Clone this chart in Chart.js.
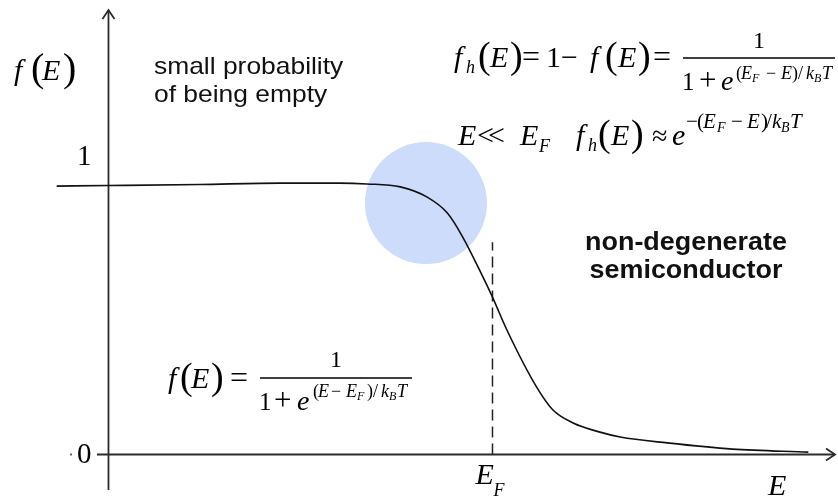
<!DOCTYPE html>
<html>
<head>
<meta charset="utf-8">
<title>Fermi-Dirac occupancy</title>
<script src="https://cdn.jsdelivr.net/npm/chart.js@4.4.1/dist/chart.umd.min.js"></script>
<style>
  html, body { margin: 0; padding: 0; background: #fff; overflow: hidden; }
  canvas { display: block; }
</style>
</head>
<body>
<canvas id="fermi" width="838" height="498"></canvas>
<script>
// occupancy curve f(E), energy in arbitrary units (E_F = 4)
const energy = [-0.54, 0, 0.95, 1.79, 2.41, 2.69, 3.04, 3.32, 3.53, 3.69, 3.9, 4.0, 4.15, 4.46, 4.63, 4.84, 5.12, 5.33, 5.82, 6.5, 7.29];
const occupancy = [0.996, 0.998, 1.002, 1.007, 1.007, 1.004, 0.993, 0.955, 0.896, 0.807, 0.659, 0.584, 0.462, 0.25, 0.165, 0.117, 0.083, 0.065, 0.043, 0.02, 0.009];

// Fermi level marker
const fermiLevel = 4.0;
const fermiMarkerTop = 0.788;

// shaded region around the knee of the curve
const highlightE = [3.307];
const highlightF = [0.933];

const yTickValues = [1, 0];
const yTickLabels = ['1', '0'];

const SERIF = '"Liberation Serif", "DejaVu Serif", serif';
const SANS = '"Liberation Sans", Arial, sans-serif';

// glyphs placed one by one: [text, x, italic, size, baseline]
function glyphs(ctx, list) {
    list.forEach(function (g) {
        const [t, x, it, size, base] = g;
        ctx.font = (it ? 'italic ' : '') + size + 'px ' + SERIF;
        ctx.fillText(t, x, base);
    });
}

function fracLine(ctx, x0, x1, y) {
    ctx.fillRect(x0, y - 0.75, x1 - x0, 1.5);
}

function centered(ctx, text, cx, base, font) {
    ctx.font = font;
    ctx.textAlign = 'center';
    ctx.fillText(text, cx, base);
    ctx.textAlign = 'left';
}

// text drawn slightly wider than the font's own metrics
function wideText(ctx, text, x, y, sx, align) {
    ctx.save();
    ctx.translate(x, y);
    ctx.scale(sx, 1);
    ctx.textAlign = align;
    ctx.fillText(text, 0, 0);
    ctx.restore();
}

function arrowHead(ctx, x, y, dx, dy) {
    // open chevron pointing along (dx, dy)
    const len = 9, half = 6;
    const px = -dy, py = dx;
    ctx.beginPath();
    ctx.moveTo(x - dx * len + px * half, y - dy * len + py * half);
    ctx.lineTo(x, y);
    ctx.lineTo(x - dx * len - px * half, y - dy * len - py * half);
    ctx.stroke();
}

const diagram = {
    id: 'diagram',
    beforeDatasetsDraw(chart) {
        const ctx = chart.ctx;
        const xs = chart.scales.x, ys = chart.scales.y;
        const x0 = xs.getPixelForValue(0), y0 = ys.getPixelForValue(0);

        ctx.save();
        ctx.strokeStyle = '#2b2b2b';
        ctx.lineWidth = 1.8;
        // energy axis
        const xEnd = xs.getPixelForValue(7.568);
        ctx.beginPath();
        ctx.moveTo(xs.getPixelForValue(-0.12), y0);
        ctx.lineTo(xEnd, y0);
        ctx.stroke();
        arrowHead(ctx, xEnd, y0, 1, 0);
        // occupancy axis
        const yEnd = ys.getPixelForValue(1.649);
        ctx.beginPath();
        ctx.moveTo(x0, ys.getPixelForValue(-0.132));
        ctx.lineTo(x0, yEnd);
        ctx.stroke();
        arrowHead(ctx, x0, yEnd, 0, -1);
        ctx.restore();
    },
    afterDraw(chart) {
        const ctx = chart.ctx;
        const xs = chart.scales.x, ys = chart.scales.y;
        const x0 = xs.getPixelForValue(0);
        ctx.save();
        ctx.fillStyle = '#000';
        ctx.textBaseline = 'alphabetic';

        // tick labels on the f(E) axis
        yTickValues.forEach(function (v, i) {
            ctx.font = '29px ' + SERIF;
            ctx.textAlign = 'right';
            const y = ys.getPixelForValue(v);
            ctx.fillText(yTickLabels[i], x0 - 17, y + (v === 0 ? 8 : -20));
        });
        ctx.textAlign = 'left';
        ctx.fillStyle = '#666';
        ctx.fillRect(70, ys.getPixelForValue(0) - 1, 2, 2);
        ctx.fillStyle = '#000';

        // axis titles
        glyphs(ctx, [['f', 14, 1, 30, 80], ['(', 31, 0, 40, 81], ['E', 42, 1, 30, 80], [')', 63, 0, 40, 81]]);
        const ef = xs.getPixelForValue(fermiLevel);
        glyphs(ctx, [['E', ef - 17, 1, 30, 484], ['F', ef + 1, 1, 18, 496]]);
        glyphs(ctx, [['E', 768, 1, 30, 495]]);

        // f_h(E) = 1 - f(E) = 1 / (1 + e^{(E_F - E)/k_B T})
        glyphs(ctx, [
            ['f', 454, 1, 30, 67], ['h', 466, 1, 18, 73], ['(', 478, 0, 38, 68], ['E', 490, 1, 30, 67],
            [')', 510, 0, 38, 68], ['=', 522, 0, 32, 67], ['1', 546, 0, 30, 67], ['\u2212', 561, 0, 30, 67],
            ['f', 590, 1, 30, 67], ['(', 605, 0, 38, 68], ['E', 618, 1, 30, 67], [')', 638, 0, 38, 68],
            ['=', 653, 0, 32, 67]
        ]);
        fracLine(ctx, 683, 835, 58);
        centered(ctx, '1', 759, 48, '24px ' + SERIF);
        glyphs(ctx, [
            ['1', 682, 0, 25, 90], ['+', 699, 0, 31, 90], ['e', 721, 1, 28, 90],
            ['(', 736, 0, 18, 79], ['E', 741, 1, 18, 79], ['F', 752, 1, 12, 82], ['\u2212', 766, 0, 18, 79],
            ['E', 781, 1, 18, 79], [')', 792, 0, 18, 79], ['/', 798, 0, 18, 79], ['k', 806, 1, 18, 79],
            ['B', 814, 1, 12, 82], ['T', 822, 1, 18, 79]
        ]);

        // E << E_F   f_h(E) ≈ e^{-(E_F - E)/k_B T}
        glyphs(ctx, [
            ['E', 458, 1, 30, 145], ['<', 477, 0, 30, 145], ['<', 488, 0, 30, 145],
            ['E', 520, 1, 30, 145], ['F', 539, 1, 18, 152]
        ]);
        glyphs(ctx, [
            ['f', 576, 1, 30, 145], ['h', 588, 1, 18, 151], ['(', 598, 0, 38, 146], ['E', 611, 1, 30, 145],
            [')', 631, 0, 38, 146], ['\u2248', 652, 0, 28, 145], ['e', 672, 1, 30, 145],
            ['\u2212', 686, 0, 21, 128], ['(', 697, 0, 21, 128], ['E', 703, 1, 21, 128], ['F', 717, 1, 14, 132],
            ['\u2212', 731, 0, 21, 128], ['E', 747, 1, 21, 128], [')', 761, 0, 21, 128], ['/', 766, 0, 21, 128],
            ['k', 772, 1, 21, 128], ['B', 781, 1, 14, 132], ['T', 790, 1, 21, 128]
        ]);

        // f(E) = 1 / (1 + e^{(E - E_F)/k_B T})
        glyphs(ctx, [
            ['f', 168, 1, 30, 388], ['(', 180, 0, 38, 389], ['E', 191, 1, 30, 388], [')', 211, 0, 38, 389],
            ['=', 230, 0, 32, 388]
        ]);
        fracLine(ctx, 260, 412, 378);
        centered(ctx, '1', 336, 367, '24px ' + SERIF);
        glyphs(ctx, [
            ['1', 259, 0, 25, 410], ['+', 274, 0, 31, 410], ['e', 297, 1, 28, 410],
            ['(', 313, 0, 18, 397], ['E', 318, 1, 18, 397], ['\u2212', 331, 0, 18, 397], ['E', 346, 1, 18, 397],
            ['F', 357, 1, 12, 400], [')', 367, 0, 18, 397], ['/', 373, 0, 18, 397], ['k', 381, 1, 18, 397],
            ['B', 389, 1, 12, 400], ['T', 397, 1, 18, 397]
        ]);

        // annotations
        ctx.fillStyle = '#111';
        ctx.font = '24px ' + SANS;
        wideText(ctx, 'small probability', 154, 74, 1.1, 'left');
        wideText(ctx, 'of being empty', 154, 102, 1.1, 'left');
        ctx.font = 'bold 26px ' + SANS;
        wideText(ctx, 'non-degenerate', 686, 250, 1.035, 'center');
        wideText(ctx, 'semiconductor', 686, 278, 1.035, 'center');
        ctx.restore();
    }
};

const curvePoints = energy.map((e, i) => ({ x: e, y: occupancy[i] }));
const highlightPoints = highlightE.map((e, i) => ({ x: e, y: highlightF[i] }));

new Chart(document.getElementById('fermi'), {
    type: 'line',
    data: {
        datasets: [
            {
                label: 'f(E)',
                data: curvePoints,
                borderColor: '#111',
                borderWidth: 1.6,
                pointRadius: 0,
                cubicInterpolationMode: 'monotone',
                fill: false,
                order: 1
            },
            {
                label: 'E_F',
                data: [{ x: fermiLevel, y: 0 }, { x: fermiLevel, y: fermiMarkerTop }],
                borderColor: '#222',
                borderWidth: 1.5,
                borderDash: [11, 6],
                pointRadius: 0,
                order: 2
            },
            {
                type: 'scatter',
                label: 'knee',
                data: highlightPoints,
                backgroundColor: '#cddcfa',
                borderWidth: 0,
                pointRadius: 61,
                order: 3
            }
        ]
    },
    options: {
        responsive: false,
        animation: false,
        devicePixelRatio: 1,
        layout: { padding: 0, autoPadding: false },
        scales: {
            x: { type: 'linear', display: false, min: -1.13, max: 7.599 },
            y: { type: 'linear', display: false, min: -0.1614, max: 1.6865 }
        },
        plugins: {
            legend: { display: false },
            tooltip: { enabled: false }
        }
    },
    plugins: [diagram]
});
</script>
</body>
</html>
